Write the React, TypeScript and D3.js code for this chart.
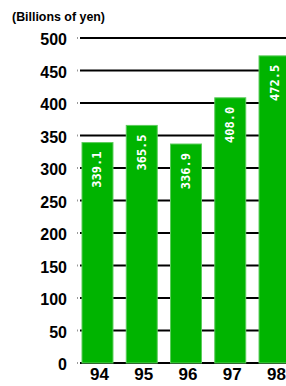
import React, { useEffect, useRef } from 'react';
import * as d3 from 'd3';

const years = ['94', '95', '96', '97', '98'];
const sales = [339.1, 365.5, 336.9, 408.0, 472.5];
const yTicks = [0, 50, 100, 150, 200, 250, 300, 350, 400, 450, 500];

const W = 286;
const H = 386;
const FONT = '"Liberation Sans", Arial, sans-serif';

const App = () => {
  const svgRef = useRef<SVGSVGElement>(null);

  useEffect(() => {
    const svg = d3.select(svgRef.current);
    svg.selectAll('*').remove();

    const x = d3.scaleBand().domain(years).range([82, 290]).paddingInner(0.3).paddingOuter(0);
    const y = d3.scaleLinear().domain([0, 500]).range([363, 38]);

    // title, condensed to fit
    svg.append('text')
      .attr('x', 12)
      .attr('y', 21)
      .attr('font-family', FONT)
      .attr('font-weight', 'bold')
      .attr('font-size', 12)
      .attr('textLength', 93)
      .attr('lengthAdjust', 'spacingAndGlyphs')
      .text('(Billions of yen)');

    // gridlines
    const grid = svg.append('g');
    grid.selectAll('line.g')
      .data(yTicks)
      .enter()
      .append('line')
      .attr('x1', 80)
      .attr('x2', W)
      .attr('y1', d => y(d))
      .attr('y2', d => y(d))
      .attr('stroke', '#000')
      .attr('stroke-width', 2);
    grid.selectAll('rect.dot')
      .data(yTicks)
      .enter()
      .append('rect')
      .attr('x', 77)
      .attr('y', d => y(d) - 1)
      .attr('width', 1)
      .attr('height', 2)
      .attr('fill', '#999');

    // y labels
    svg.selectAll('text.yl')
      .data(yTicks)
      .enter()
      .append('text')
      .attr('x', 67)
      .attr('y', d => y(d) + 7)
      .attr('text-anchor', 'end')
      .attr('font-family', FONT)
      .attr('font-weight', 'bold')
      .attr('font-size', 16)
      .text(d => d);

    // bars
    svg.selectAll('rect.bar')
      .data(sales)
      .enter()
      .append('rect')
      .attr('x', (d, i) => x(years[i])!)
      .attr('y', d => y(d))
      .attr('width', x.bandwidth())
      .attr('height', d => y(0) - y(d))
      .attr('fill', '#00b400')
      .attr('stroke', '#5ccc5c')
      .attr('stroke-width', 1);

    // value labels, rotated
    svg.selectAll('text.vl')
      .data(sales)
      .enter()
      .append('text')
      .attr('transform', (d, i) => `translate(${x(years[i])! + x.bandwidth() / 2 + 4},${y(d) + 9}) rotate(-90)`)
      .attr('text-anchor', 'end')
      .attr('font-family', '"DejaVu Sans Mono", monospace')
      .attr('font-weight', 'bold')
      .attr('font-size', 12)
      .attr('fill', '#fff')
      .text(d => d.toFixed(1));

    // x labels
    svg.selectAll('text.xl')
      .data(years)
      .enter()
      .append('text')
      .attr('x', d => x(d)! + x.bandwidth() / 2 + 2)
      .attr('y', 380)
      .attr('text-anchor', 'middle')
      .attr('font-family', FONT)
      .attr('font-weight', 'bold')
      .attr('font-size', 17)
      .text(d => d);
  }, []);

  return (
    <svg ref={svgRef} width={W} height={H} style={{ position: 'absolute', left: 0, top: 0, background: '#fff' }}></svg>
  );
};

export default App;
